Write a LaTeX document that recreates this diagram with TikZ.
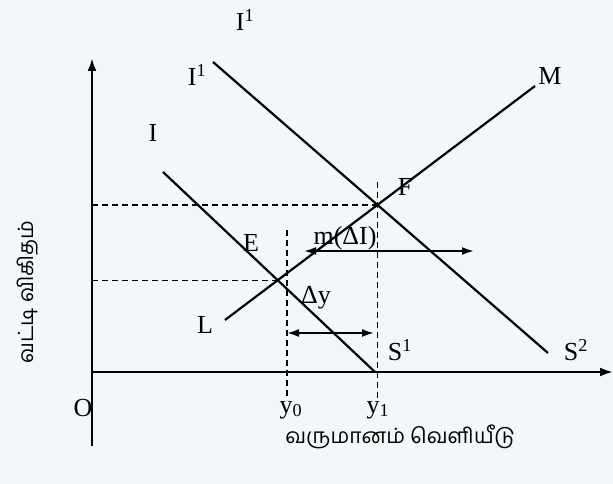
\documentclass[tikz,border=0pt]{standalone}
\usepackage{fontspec}
\setmainfont{Liberation Serif}
\newfontfamily\tamilfont[Script=Tamil]{Hind Madurai}
\usetikzlibrary{arrows.meta,intersections,calc}
\definecolor{paper}{RGB}{242,247,249}
\tikzset{
  curve/.style={line width=2.2pt,black},
  axis/.style={line width=2.4pt,-{Latex[length=13pt,width=9pt]}},
  guide/.style={line width=1.3pt,dash pattern=on 6pt off 4pt},
  shift arrow/.style={line width=2pt,{Latex[length=12pt,width=8pt]}-{Latex[length=12pt,width=8pt]}},
  lab/.style={font=\fontsize{26}{26}\selectfont,inner sep=0pt},
  tlab/.style={font=\tamilfont\fontsize{21}{24}\selectfont,inner sep=0pt}
}
\begin{document}
\begin{tikzpicture}[x=1pt,y=-1pt]
\fill[paper] (0,0) rectangle (613,484);
\useasboundingbox (0,0) rectangle (613,484);
% axes
\coordinate (ybot) at (92,446);
\coordinate (ytop) at (92,58);
\coordinate (xl) at (92,372);
\coordinate (xr) at (613,372);
\draw[axis] (ybot) -- (ytop);
\draw[axis] (xl) -- (xr);
% curves
\coordinate (Ia) at (163,172);
\coordinate (Ib) at (375,372);
\coordinate (Ja) at (213,62);
\coordinate (Jb) at (548,353);
\coordinate (La) at (225,320);
\coordinate (Lb) at (535,86);
\draw[curve,name path=IS] (Ia) -- (Ib);
\draw[curve,name path=IS1] (Ja) -- (Jb);
\draw[curve,name path=LM] (La) -- (Lb);
\path[name intersections={of=IS and LM,by=E}];
\path[name intersections={of=IS1 and LM,by=F}];
% guides
\draw[guide] (E -| xl) -- (E);
\draw[guide] (F -| xl) -- (F);
\coordinate (y0t) at (287,230);
\coordinate (y0b) at (287,400);
\draw[guide] (y0t) -- (y0b);
\coordinate (y1t) at ($(F |- 0,182)$);
\coordinate (y1b) at ($(F |- 0,400)$);
\draw[guide] (y1t) -- (y1b);
% shift arrows
\coordinate (ma) at (304,251);
\coordinate (mb) at (474,251);
\draw[shift arrow] (ma) -- (mb);
\coordinate (da) at (287,333);
\coordinate (db) at (374,333);
\draw[shift arrow] (da) -- (db);
% labels
\node[lab] (l1) at (245,20) {I\textsuperscript{1}};
\node[lab] (l2) at (197,75) {I\textsuperscript{1}};
\node[lab] (l3) at (153,133) {I};
\node[lab] (lM) at (550,76) {M};
\node[lab] (lF) at (405,187) {F};
\node[lab] (lE) at (251,243) {E};
\node[lab] (lL) at (205,325) {L};
\node[lab] (lS1) at (400,350) {S\textsuperscript{1}};
\node[lab] (lS2) at (576,350) {S\textsuperscript{2}};
\node[lab] (lO) at (83,408) {O};
\node[lab] (ly0) at (291,410) {y\textsubscript{0}};
\node[lab] (ly1) at (378,410) {y\textsubscript{1}};
\node[lab] (ldy) at (316,298) {Δy};
\node[lab] (lm) at (345,238) {m(ΔI)};
\node[tlab,rotate=90] (yl) at (28,292) {வட்டி விகிதம்};
\node[tlab] (xlab) at (400,437) {வருமானம் வெளியீடு};
\end{tikzpicture}
\end{document}
